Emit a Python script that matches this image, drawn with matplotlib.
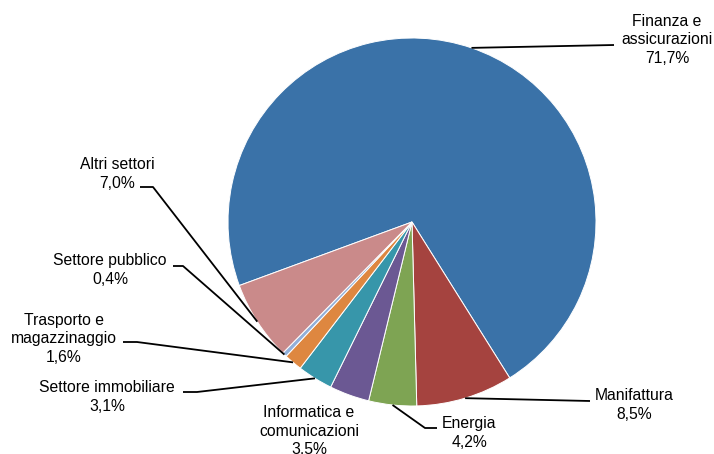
import numpy as np
import matplotlib.pyplot as plt

plt.rcParams['font.family'] = ['Liberation Sans', 'DejaVu Sans']

# data
sectors = [
    "Finanza e\nassicurazioni",
    "Manifattura",
    "Energia",
    "Informatica e\ncomunicazioni",
    "Settore immobiliare",
    "Trasporto e\nmagazzinaggio",
    "Settore pubblico",
    "Altri settori",
]
shares = [71.7, 8.5, 4.2, 3.5, 3.1, 1.6, 0.4, 7.0]
colors = ["#3A72A8", "#A5433F", "#7EA453", "#6B5893", "#3796AA",
          "#DE8740", "#92AFD9", "#CA8A8A"]

# layout (pixel coords, y measured from top)
W, H = 714, 454
CENTER = (412, 222)
RADIUS = 184
label_pos = [(667, 40), (634, 405), (469, 433), (309, 431),
             (107, 397), (64, 339), (110, 270), (117, 174)]
# leader lines: points from label side toward the pie (None = no leader)
leader_pts = [
    [(614, 45)],
    [(590, 401)],
    [(437, 428), (425, 428)],
    None,
    [(183, 392), (197, 392)],
    [(123, 342), (137, 342)],
    [(173, 266), (183, 266)],
    [(140, 187), (153, 187)],
]


def fy(y):
    return H - y


fig = plt.figure(figsize=(W / 100, H / 100), dpi=100)
ax = fig.add_axes([0, 0, 1, 1])

wedges, _ = ax.pie(
    shares,
    colors=colors,
    startangle=200.2,
    counterclock=False,
    center=(CENTER[0], fy(CENTER[1])),
    radius=RADIUS,
    wedgeprops=dict(edgecolor='white', linewidth=0.7),
    frame=True,
)
ax.set_xlim(0, W)
ax.set_ylim(0, H)
ax.set_aspect('equal')
ax.axis('off')

for name, val, w, (lx, ly), pts in zip(sectors, shares, wedges, label_pos, leader_pts):
    txt = f"{name}\n{val:.1f}%".replace('.', ',')
    ax.text(lx, fy(ly), txt, ha='center', va='center', fontsize=11.3,
            linespacing=1.27, color='#000000')
    if pts is None:
        continue
    # leader ends on the pie edge at the middle of the slice
    mid = np.deg2rad((w.theta1 + w.theta2) / 2)
    ex = CENTER[0] + RADIUS * np.cos(mid)
    ey = fy(CENTER[1]) + RADIUS * np.sin(mid)
    xs = [p[0] for p in pts] + [ex]
    ys = [fy(p[1]) for p in pts] + [ey]
    ax.plot(xs, ys, color='black', linewidth=1.3, solid_capstyle='butt')

fig.savefig("out.png", dpi=100)
plt.close()
